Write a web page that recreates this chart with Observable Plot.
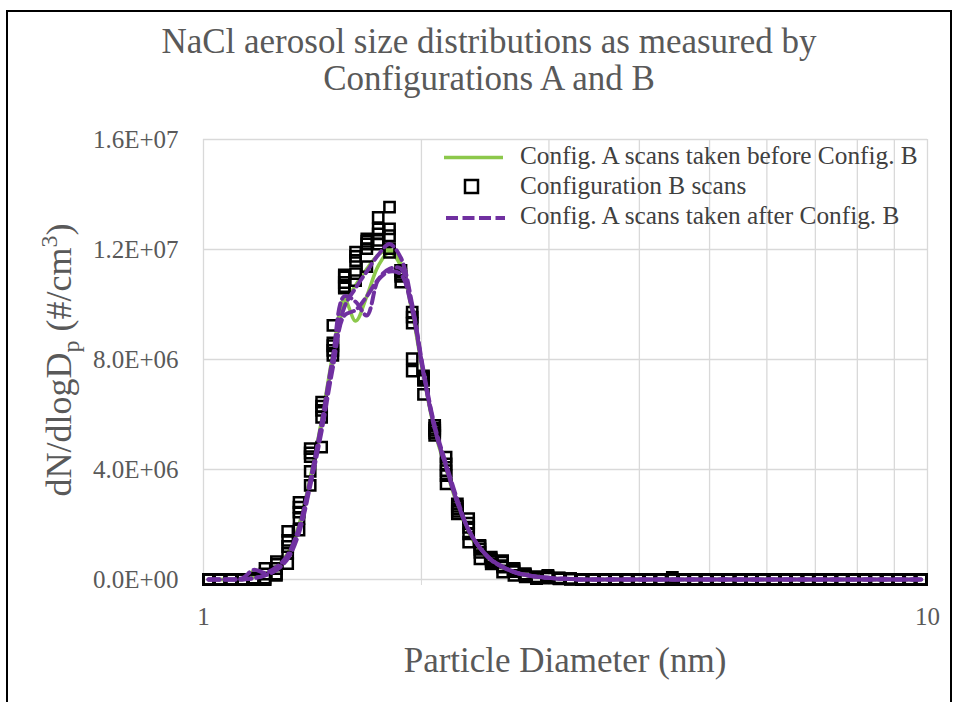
<!DOCTYPE html>
<html>
<head>
<meta charset="utf-8">
<script src="https://cdn.jsdelivr.net/npm/d3@7"></script>
<script src="https://cdn.jsdelivr.net/npm/@observablehq/plot@0.6"></script>
<style>
  html, body { margin: 0; padding: 0; background: #fff; }
  body { width: 955px; height: 702px; position: relative; overflow: hidden; font-family: "Liberation Serif", serif; }
  #frame { position: absolute; left: 6px; top: 10px; width: 942px; height: 720px; border: 2.5px solid #000; box-sizing: content-box; }
  #title { position: absolute; left: 89px; width: 800px; top: 24px; text-align: center; font-family: "Liberation Serif", "Times New Roman", serif; font-size: 35px; line-height: 36.5px; color: #595959; white-space: nowrap; }
  #chart { position: absolute; left: 0; top: 0; }
</style>
</head>
<body>
<div id="frame"></div>
<div id="title">NaCl aerosol size distributions as measured by<br>Configurations A and B</div>
<div id="chart"></div>
<script>
// Particle diameter bins (nm)
const diameters = [1.016,1.053,1.092,1.132,1.173,1.216,1.261,1.307,1.355,1.404,
  1.456,1.509,1.565,1.622,1.681,1.743,1.807,1.873,1.942,2.013,
  2.086,2.163,2.242,2.324,2.409,2.497,2.589,2.684,2.782,2.884,
  2.990,3.099,3.213,3.331,3.453,3.579,3.710,3.846,3.987,4.133,
  4.285,4.442,4.605,4.773,4.948,5.129,5.317,5.512,5.714,5.924,
  6.141,6.366,6.599,6.840,7.091,7.351,7.620,7.899,8.189,8.489,
  8.800,9.120,9.456,9.802];

// Values in units of 1e6 #/cm3
// Config. A scans taken before Config. B (green, solid)
const beforeA1 = [0,0,0,0.02,0.1,0.2,0.4,0.85,1.9,3.6,5.7,8.0,10.0,10.7,11.3,11.8,12.0,11.5,9.8,7.5,5.5,4.1,2.8,1.75,1.1,0.7,0.45,0.27,0.16,0.09,0.05,0.03,0.02,
  0,0,0,0,0,0,0,0,0,0,0,0,0,0,0,0,0,0,0,0,0,0,0,0,0,0,0,0,0,0,0];
const beforeA2 = [0,0,0,0,0.3,0.2,0.45,0.95,2.0,3.7,5.8,8.2,10.2,9.4,10.3,11.4,11.9,11.4,9.7,7.4,5.4,4.0,2.7,1.7,1.05,0.65,0.42,0.25,0.15,0.09,0.05,0.03,0.02,
  0,0,0,0,0,0,0,0,0,0,0,0,0,0,0,0,0,0,0,0,0,0,0,0,0,0,0,0,0,0,0];

// Configuration B scans (black squares)
const scanB1 = [0,0,0,0,0,0,0.15,0.58,1.8,3.42,4.81,8.15,10.6,10.87,11.38,12.2,11.9,10.81,7.58,6.73,5.24,3.48,2.39,1.36,0.75,0.57,0.27,0.15,0.1,0.03,0.05,0.02,0.01,
  0,0,0,0,0,0,0,0,0,0,0,0,0,0,0,0,0,0,0,0,0,0,0,0,0,0,0,0,0,0,0];
const scanB2 = [0,0,0,0,0,0,0.2,0.95,2.22,3.93,5.9,8.33,10.65,11.12,12.03,12.33,12.03,11.02,8.03,7.24,5.33,3.78,2.48,1.66,0.99,0.65,0.45,0.29,0.15,0.05,0.08,0.03,0.01,
  0,0,0,0,0,0,0,0,0,0,0,0,0,0,0,0,0,0,0,0,0,0,0,0,0,0,0,0,0,0,0];
const scanB3 = [0,0,0,0,0,0.05,0.4,1.2,2.45,4.47,6.15,8.5,10.8,11.6,12.2,12.57,12.5,11.1,9.32,7.3,5.42,3.96,2.57,1.9,1.1,0.7,0.5,0.35,0.15,0.05,0.1,0.04,0.02,
  0,0,0,0,0,0,0,0,0,0,0,0,0,0,0,0,0,0,0,0,0,0,0,0,0,0,0,0,0,0,0];
const scanB4 = [0,0,0,0,0,0.2,0.55,1.42,2.63,4.6,6.3,8.6,11.0,11.75,12.3,12.75,12.75,11.24,9.54,7.36,5.5,4.2,2.66,2.05,1.2,0.75,0.63,0.39,0.2,0.08,0.12,0.05,0.02,
  0,0,0,0,0,0,0,0,0,0,0,0,0,0,0,0,0,0,0,0,0,0,0,0,0,0,0,0,0,0,0];
const scanB5 = [0,0,0,0,0.05,0.4,0.65,1.75,2.8,4.76,6.45,9.24,11.08,11.9,12.39,13.17,13.54,11.24,9.72,7.4,5.6,4.45,2.75,2.21,1.24,0.81,0.69,0.4,0.2,0.1,0.15,0.06,0.03,
  0,0,0,0,0,0,0,0,0.08,0,0,0,0,0,0,0,0,0,0,0,0,0,0,0,0,0,0,0,0,0,0];

// Config. A scans taken after Config. B (purple, dashed)
const afterA1 = [0,0,0,0,0.05,0.15,0.35,0.8,1.8,3.5,5.6,7.9,9.9,10.6,11.2,11.8,12.2,11.7,10.0,7.6,5.6,4.2,2.9,1.8,1.15,0.72,0.46,0.28,0.17,0.1,0.06,0.03,0.02,
  0,0,0,0,0,0,0,0,0,0,0,0,0,0,0,0,0,0,0,0,0,0,0,0,0,0,0,0,0,0,0];
const afterA2 = [0,0,0,0.05,0.35,0.25,0.45,0.9,1.9,3.6,5.7,8.1,10.3,10.1,9.6,10.9,11.3,11.3,9.9,7.5,5.5,4.1,2.8,1.8,1.15,0.7,0.45,0.27,0.16,0.1,0.06,0.03,0.02,
  0,0,0,0,0,0,0,0,0,0,0,0,0,0,0,0,0,0,0,0,0,0,0,0,0,0,0,0,0,0,0];
const afterA3 = [0,0,0,0,0.05,0.15,0.35,0.75,1.7,3.4,5.4,7.7,9.6,9.8,10.3,10.9,11.2,11.1,9.8,7.5,5.5,4.1,2.8,1.8,1.15,0.72,0.46,0.28,0.17,0.1,0.06,0.03,0.02,
  0,0,0,0,0,0,0,0,0,0,0,0,0,0,0,0,0,0,0,0,0,0,0,0,0,0,0,0,0,0,0];

const unit = 1e6;
const xTicks = [1,2,3,4,5,6,7,8,9,10];
const xTickLabels = ["1","","","","","","","","","10"];
const yTicks = [0,4e6,8e6,12e6,16e6];
const yTickLabels = ["0.0E+00","4.0E+06","8.0E+06","1.2E+07","1.6E+07"];
const legendLabels = ["Config. A scans taken before Config. B","Configuration B scans","Config. A scans taken after Config. B"];

const GREEN = "#8cc84b", PURPLE = "#7030a0";
const FONT = "'Liberation Serif', 'Times New Roman', serif";

const toRows = (scans) => scans.flatMap((s, j) => s.map((v, i) => ({d: diameters[i], v: v * unit, scan: j})));
const greenRows = toRows([beforeA1, beforeA2]);
const squareRows = toRows([scanB1, scanB2, scanB3, scanB4, scanB5]);
const purpleRows = toRows([afterA1, afterA2, afterA3]);

const chart = Plot.plot({
  width: 955,
  height: 702,
  marginLeft: 203,
  marginRight: 28,
  marginTop: 139,
  marginBottom: 123,
  style: {fontFamily: FONT, fontSize: "25px", color: "#595959", background: "transparent"},
  x: {type: "log", domain: [1, 10]},
  y: {domain: [0, 1.6e7]},
  marks: [
    Plot.ruleY(yTicks, {stroke: "#d9d9d9", strokeWidth: 1.3}),
    Plot.ruleX(xTicks, {stroke: "#d9d9d9", strokeWidth: 1.3}),
    Plot.axisX(xTicks, {tickSize: 6, tickPadding: 22, fontSize: 25, stroke: "#d9d9d9", fill: "#595959",
      tickFormat: d => xTickLabels[xTicks.indexOf(d)], label: null}),
    Plot.axisY(yTicks, {tickSize: 0, tickPadding: 25, fontSize: 25, fill: "#595959",
      tickFormat: d => yTickLabels[yTicks.indexOf(d)], label: null}),
    Plot.line(greenRows, {x: "d", y: "v", z: "scan", stroke: GREEN, strokeWidth: 3.5, curve: "catmull-rom"}),
    Plot.dot(squareRows, {x: "d", y: "v", symbol: "square", r: 5.8, stroke: "#000", strokeWidth: 2.5, fill: "none"}),
    Plot.line(purpleRows, {x: "d", y: "v", z: "scan", stroke: PURPLE, strokeWidth: 4, strokeDasharray: "11,5", curve: "catmull-rom"})
  ]
});
document.getElementById("chart").appendChild(chart);

const svg = d3.select(chart);
// Y axis title
const yt = svg.append("text")
  .attr("transform", "translate(71,360) rotate(-90)")
  .attr("text-anchor", "middle")
  .attr("font-family", FONT).attr("font-size", 36).attr("fill", "#595959");
yt.append("tspan").text("dN/dlogD");
yt.append("tspan").attr("dy", 8).attr("font-size", 24).text("p");
yt.append("tspan").attr("dy", -8).text(" (#/cm");
yt.append("tspan").attr("dy", -14).attr("font-size", 24).text("3");
yt.append("tspan").attr("dy", 14).text(")");

// X axis title
svg.append("text").attr("x", 565).attr("y", 672).attr("text-anchor", "middle")
  .attr("font-family", FONT).attr("font-size", 35).attr("fill", "#595959")
  .text("Particle Diameter (nm)");

// Legend
const lg = svg.append("g").attr("font-family", FONT).attr("font-size", 25.3).attr("fill", "#404040")
  .attr("text-anchor", "start");
lg.append("line").attr("x1", 444).attr("x2", 503).attr("y1", 157.5).attr("y2", 157.5)
  .attr("stroke", GREEN).attr("stroke-width", 3.5);
lg.append("rect").attr("x", 465).attr("y", 180).attr("width", 13).attr("height", 13)
  .attr("fill", "none").attr("stroke", "#000").attr("stroke-width", 2.5);
lg.append("line").attr("x1", 446).attr("x2", 505).attr("y1", 218).attr("y2", 218)
  .attr("stroke", PURPLE).attr("stroke-width", 4).attr("stroke-dasharray", "12,4.5");
legendLabels.forEach((t, i) => {
  lg.append("text").attr("x", 520).attr("y", 164 + i * 30).attr("text-anchor", "start").text(t);
});
</script>
</body>
</html>
